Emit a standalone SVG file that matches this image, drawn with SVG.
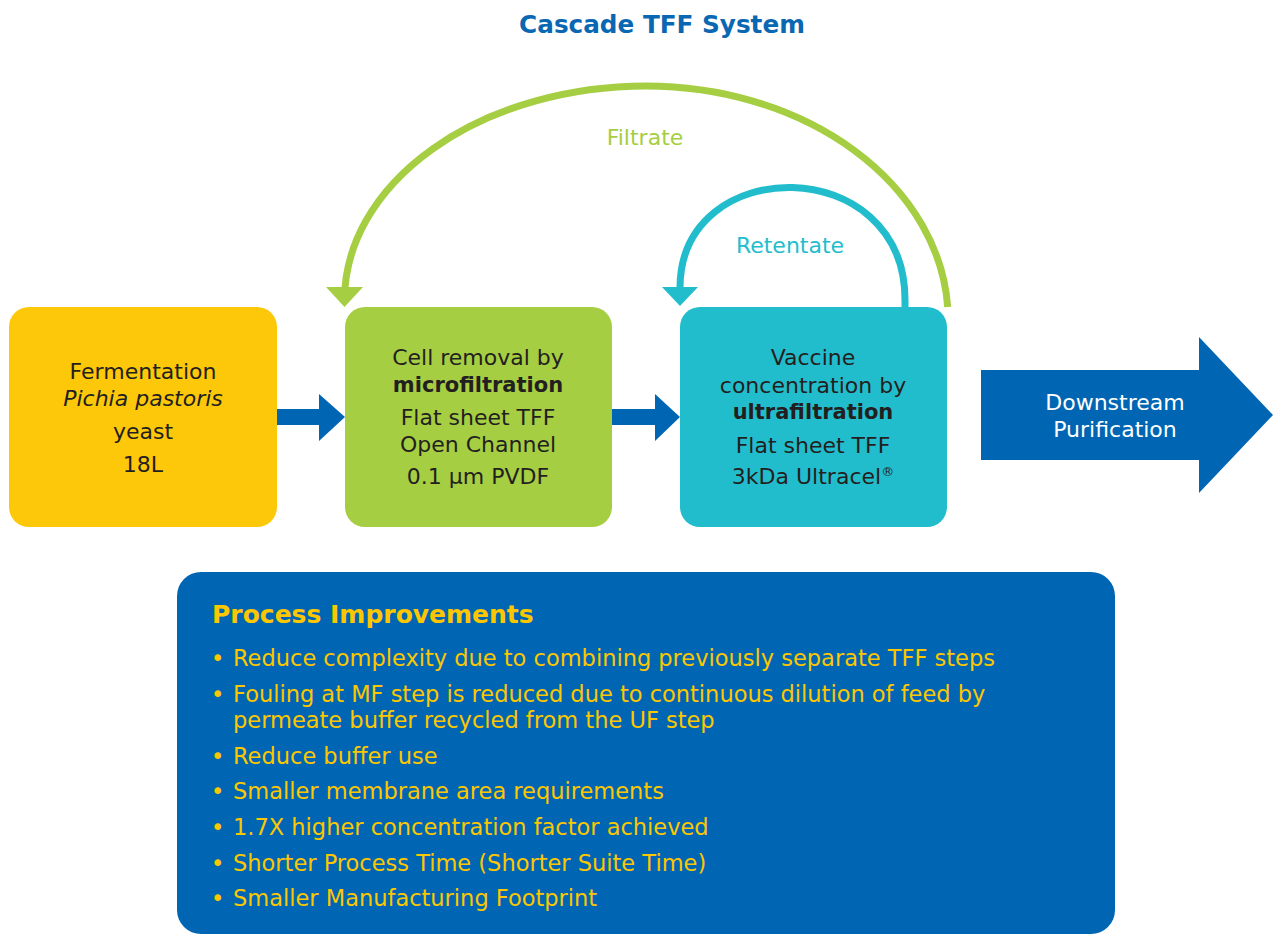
<svg xmlns="http://www.w3.org/2000/svg" width="1273" height="935" viewBox="0 0 1273 935">
<style>
text{font-family:"DejaVu Sans",Verdana,sans-serif;font-size:22px}
.c{text-anchor:middle}
.dk{fill:#231f20}
.b{font-weight:bold}
.bb{font-weight:bold;font-size:21px}
.y{fill:#fcc600;font-size:22.5px}
</style>
<rect width="1273" height="935" fill="#ffffff"/>
<text class="c b" x="662" y="33" fill="#0a67b2" style="font-size:24.7px">Cascade TFF System</text>
<g id="connectors">
  <path d="M947.7,307 A302,234 0 0 0 646,86 A302,214 0 0 0 344.5,300 L344.5,288" fill="none" stroke="#a6ce42" stroke-width="7"/>
  <polygon points="326,287 363,287 344.5,307" fill="#a6ce42"/>
  <path d="M905,307 L905,300 C905,152 680,152 680,288" fill="none" stroke="#22bdcd" stroke-width="7"/>
  <polygon points="662,287 698,287 680,306" fill="#22bdcd"/>
  <polygon points="277,409 319,409 319,394 345,417 319,441 319,425 277,425" fill="#0066b3"/>
  <polygon points="612,409 655,409 655,394 680,417 655,441 655,425 612,425" fill="#0066b3"/>
  <text class="c" x="645" y="145" fill="#a6ce42">Filtrate</text>
  <text class="c" x="790" y="253" fill="#22bdcd">Retentate</text>
</g>
<g id="fermentation">
  <rect x="9" y="307" width="268" height="220" rx="20" fill="#fec80a"/>
  <text class="c dk" x="143" y="379">Fermentation</text>
  <text class="c dk" x="143" y="406" font-style="italic">Pichia pastoris</text>
  <text class="c dk" x="143" y="439">yeast</text>
  <text class="c dk" x="143" y="472">18L</text>
</g>
<g id="microfiltration">
  <rect x="345" y="307" width="267" height="220" rx="20" fill="#a6ce42"/>
  <text class="c dk" x="478" y="365">Cell removal by</text>
  <text class="c dk bb" x="478" y="392">microfiltration</text>
  <text class="c dk" x="478" y="425">Flat sheet TFF</text>
  <text class="c dk" x="478" y="452">Open Channel</text>
  <text class="c dk" x="478" y="484">0.1 µm PVDF</text>
</g>
<g id="ultrafiltration">
  <rect x="680" y="307" width="267" height="220" rx="20" fill="#22bdcd"/>
  <text class="c dk" x="813" y="365">Vaccine</text>
  <text class="c dk" x="813" y="393">concentration by</text>
  <text class="c dk bb" x="813" y="419">ultrafiltration</text>
  <text class="c dk" x="813" y="453">Flat sheet TFF</text>
  <text class="c dk" x="813" y="484">3kDa Ultracel<tspan dy="-8" style="font-size:13px">®</tspan></text>
</g>
<g id="downstream">
  <polygon points="981,370 1199,370 1199,337 1273,415 1199,493 1199,460 981,460" fill="#0066b3"/>
  <text class="c" x="1115" y="410" fill="#ffffff">Downstream</text>
  <text class="c" x="1115" y="437" fill="#ffffff">Purification</text>
</g>
<g id="improvements">
  <rect x="177" y="572" width="938" height="362" rx="24" fill="#0066b3"/>
  <text class="b" x="212" y="623" fill="#fcc600" style="font-size:25px">Process Improvements</text>
  <text class="y" x="211" y="666">•</text><text class="y" x="233" y="666">Reduce complexity due to combining previously separate TFF steps</text>
  <text class="y" x="211" y="702">•</text><text class="y" x="233" y="702">Fouling at MF step is reduced due to continuous dilution of feed by</text>
  <text class="y" x="233" y="728">permeate buffer recycled from the UF step</text>
  <text class="y" x="211" y="764">•</text><text class="y" x="233" y="764">Reduce buffer use</text>
  <text class="y" x="211" y="799">•</text><text class="y" x="233" y="799">Smaller membrane area requirements</text>
  <text class="y" x="211" y="835">•</text><text class="y" x="233" y="835">1.7X higher concentration factor achieved</text>
  <text class="y" x="211" y="871">•</text><text class="y" x="233" y="871">Shorter Process Time (Shorter Suite Time)</text>
  <text class="y" x="211" y="906">•</text><text class="y" x="233" y="906">Smaller Manufacturing Footprint</text>
</g>
</svg>
